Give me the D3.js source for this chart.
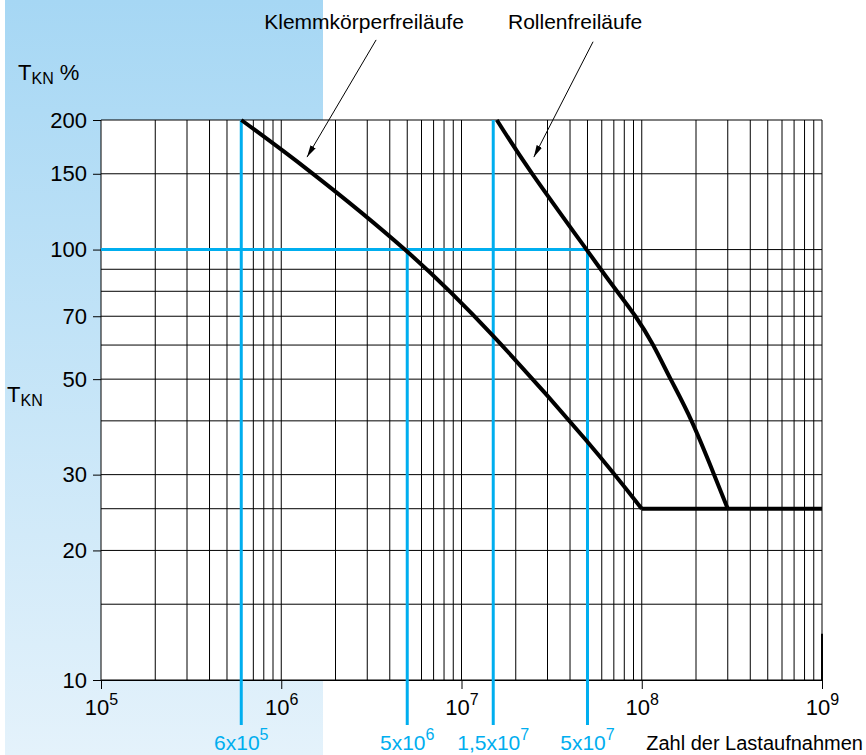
<!DOCTYPE html>
<html>
<head>
<meta charset="utf-8">
<script src="https://cdn.jsdelivr.net/npm/d3@7"></script>
<style>
  body { margin: 0; background: #fff; }
  svg { display: block; font-family: "Liberation Sans", Arial, sans-serif; }
</style>
</head>
<body>
<div id="chart"></div>
<script>
// values
let xDecades = [1e5, 1e6, 1e7, 1e8, 1e9];
let yTicks = [10, 20, 30, 50, 70, 100, 150, 200];
let yGrid = [10, 15, 20, 25, 30, 40, 50, 60, 70, 80, 90, 100, 150, 200];

let klemmX = [6e5, 1.44e6, 4.92e6, 1.52e7, 4.9e7, 1e8];
let klemmY = [200, 152, 99.5, 62.6, 36.1, 25];
let rollenX = [1.57e7, 2.47e7, 4.94e7, 5.92e7, 7.29e7, 9.22e7, 1.156e8, 1.446e8, 1.888e8, 2.52e8, 3e8];
let rollenY = [200, 150, 100, 90, 80, 70, 60, 50, 40, 30, 25];
let flatX = [1e8, 1e9];
let flatY = [25, 25];

let markX = [6e5, 5e6, 1.5e7, 5e7];
let markTop = [200, 100, 200, 100];
let markMant = ["6", "5", "1,5", "5"];
let markExp = ["5", "6", "7", "7"];
let refLevel = 100;

let annoText = ["Klemmkörperfreiläufe", "Rollenfreiläufe"];
let annoTextX = [2.88e6, 4.27e7];
let annoTailX = [3.36e6, 5.37e7];
let annoTailY = [307, 304];
let annoTipX = [1.39e6, 2.52e7];
let annoTipY = [164, 164];

let dimension = {
    width: 866,
    height: 755,
    margin: { top: 120, left: 101, right: 44, bottom: 75 }
};
let blue = "#00aeef";

let svg = d3.select("#chart")
    .append("svg")
    .attr("width", dimension.width)
    .attr("height", dimension.height);

let X = d3.scaleLog()
    .domain([1e5, 1e9])
    .range([dimension.margin.left, dimension.width - dimension.margin.right]);
let Y = d3.scaleLog()
    .domain([10, 200])
    .range([dimension.height - dimension.margin.bottom, dimension.margin.top]);

// blue panel on the left
let defs = svg.append("defs");
let grad = defs.append("linearGradient")
    .attr("id", "panel")
    .attr("x1", 0).attr("y1", 0).attr("x2", 0).attr("y2", 1);
grad.append("stop").attr("offset", "0%").attr("stop-color", "#a6d7f4");
grad.append("stop").attr("offset", "100%").attr("stop-color", "#e4f2fb");

defs.append("marker")
    .attr("id", "arrow")
    .attr("viewBox", "0 0 12 6")
    .attr("refX", 12).attr("refY", 3)
    .attr("markerWidth", 12).attr("markerHeight", 6)
    .attr("markerUnits", "userSpaceOnUse")
    .attr("orient", "auto")
    .append("path")
    .attr("d", "M0,0 L12,3 L0,6 Z")
    .attr("fill", "#000");

svg.append("rect")
    .attr("x", 5).attr("y", 0)
    .attr("width", 318).attr("height", dimension.height)
    .attr("fill", "url(#panel)");

// plot area
svg.append("rect")
    .attr("x", X(1e5)).attr("y", Y(200))
    .attr("width", X(1e9) - X(1e5))
    .attr("height", Y(10) - Y(200))
    .attr("fill", "#fff");

// vertical grid: 1..9 per decade
let vGrid = [];
d3.range(5, 9).forEach(e => {
    d3.range(1, 10).forEach(m => vGrid.push(m * Math.pow(10, e)));
});
vGrid.push(1e9);

svg.append("g")
    .selectAll("line")
    .data(vGrid)
    .enter()
    .append("line")
    .attr("x1", d => X(d)).attr("x2", d => X(d))
    .attr("y1", Y(200)).attr("y2", Y(10))
    .attr("stroke", "#000")
    .attr("stroke-width", 1);

svg.append("g")
    .selectAll("line")
    .data(yGrid)
    .enter()
    .append("line")
    .attr("x1", X(1e5)).attr("x2", X(1e9))
    .attr("y1", d => Y(d)).attr("y2", d => Y(d))
    .attr("stroke", "#000")
    .attr("stroke-width", 1);

// axes
let yAxis = d3.axisLeft(Y)
    .tickValues(yTicks)
    .tickFormat(d3.format("d"))
    .tickSize(8)
    .tickPadding(6);
svg.append("g")
    .attr("class", "axis y-axis")
    .attr("transform", "translate(" + X(1e5) + ",0)")
    .call(yAxis)
    .call(g => g.select(".domain").remove())
    .call(g => g.selectAll("line").attr("stroke", "#000"))
    .call(g => g.selectAll("text")
        .attr("fill", "#000")
        .attr("font-size", 22)
        .attr("font-family", "'Liberation Sans', Arial, sans-serif"));

let xAxis = d3.axisBottom(X)
    .tickValues(xDecades)
    .tickFormat("")
    .tickSize(9);
let xg = svg.append("g")
    .attr("class", "axis x-axis")
    .attr("transform", "translate(0," + Y(10) + ")")
    .call(xAxis)
    .call(g => g.select(".domain").attr("stroke", "#000"))
    .call(g => g.selectAll("line").attr("stroke", "#000"));

xg.selectAll(".tick")
    .append("text")
    .attr("y", 35)
    .attr("fill", "#000")
    .attr("font-size", 22)
    .attr("text-anchor", "middle")
    .attr("font-family", "'Liberation Sans', Arial, sans-serif")
    .each(function (d) {
        let t = d3.select(this);
        t.append("tspan").text("10");
        t.append("tspan")
            .attr("dy", -10)
            .attr("font-size", 16)
            .text(Math.round(Math.log10(d)));
    });

// the short heavy stroke at the bottom right corner
svg.append("line")
    .attr("x1", X(1e9)).attr("x2", X(1e9))
    .attr("y1", Y(12.8)).attr("y2", Y(10))
    .attr("stroke", "#000")
    .attr("stroke-width", 2);

// blue reference lines
svg.append("line")
    .attr("x1", X(1e5)).attr("x2", X(5e7))
    .attr("y1", Y(refLevel)).attr("y2", Y(refLevel))
    .attr("stroke", blue)
    .attr("stroke-width", 3);

svg.append("g")
    .selectAll("line")
    .data(markX)
    .enter()
    .append("line")
    .attr("x1", d => X(d)).attr("x2", d => X(d))
    .attr("y1", (d, i) => Y(markTop[i]))
    .attr("y2", Y(10) + 45)
    .attr("stroke", blue)
    .attr("stroke-width", 3);

svg.append("g")
    .selectAll("text")
    .data(markX)
    .enter()
    .append("text")
    .attr("x", d => X(d))
    .attr("y", 750)
    .attr("fill", blue)
    .attr("font-size", 21)
    .attr("text-anchor", "middle")
    .each(function (d, i) {
        let t = d3.select(this);
        t.append("tspan").text(markMant[i] + "x10");
        t.append("tspan")
            .attr("dy", -10)
            .attr("font-size", 16)
            .text(markExp[i]);
    });

// curves
let line = d3.line()
    .x(d => X(d[0]))
    .y(d => Y(d[1]))
    .curve(d3.curveNatural);

let series = [
    d3.zip(klemmX, klemmY),
    d3.zip(rollenX, rollenY),
    d3.zip(flatX, flatY)
];
svg.append("g")
    .selectAll("path")
    .data(series)
    .enter()
    .append("path")
    .attr("d", line)
    .attr("fill", "none")
    .attr("stroke", "#000")
    .attr("stroke-width", 4)
    .attr("stroke-linejoin", "round");

// annotations
let anno = svg.append("g");
annoText.forEach((t, i) => {
    anno.append("text")
        .attr("x", X(annoTextX[i]))
        .attr("y", 29)
        .attr("text-anchor", "middle")
        .attr("font-size", 21)
        .attr("fill", "#000")
        .text(t);
    anno.append("line")
        .attr("x1", X(annoTailX[i])).attr("y1", Y(annoTailY[i]))
        .attr("x2", X(annoTipX[i])).attr("y2", Y(annoTipY[i]))
        .attr("stroke", "#000")
        .attr("stroke-width", 1)
        .attr("marker-end", "url(#arrow)");
});

// axis titles
let t1 = svg.append("text")
    .attr("x", 18).attr("y", 80)
    .attr("font-size", 22)
    .attr("fill", "#000");
t1.append("tspan").text("T");
t1.append("tspan").attr("dy", 4).attr("font-size", 16).text("KN");
t1.append("tspan").attr("dy", -4).text(" %");

let t2 = svg.append("text")
    .attr("x", 7).attr("y", 402)
    .attr("font-size", 22)
    .attr("fill", "#000");
t2.append("tspan").text("T");
t2.append("tspan").attr("dy", 4).attr("font-size", 16).text("KN");

svg.append("text")
    .attr("x", 863).attr("y", 750)
    .attr("text-anchor", "end")
    .attr("font-size", 20)
    .attr("fill", "#000")
    .text("Zahl der Lastaufnahmen");
</script>
</body>
</html>
